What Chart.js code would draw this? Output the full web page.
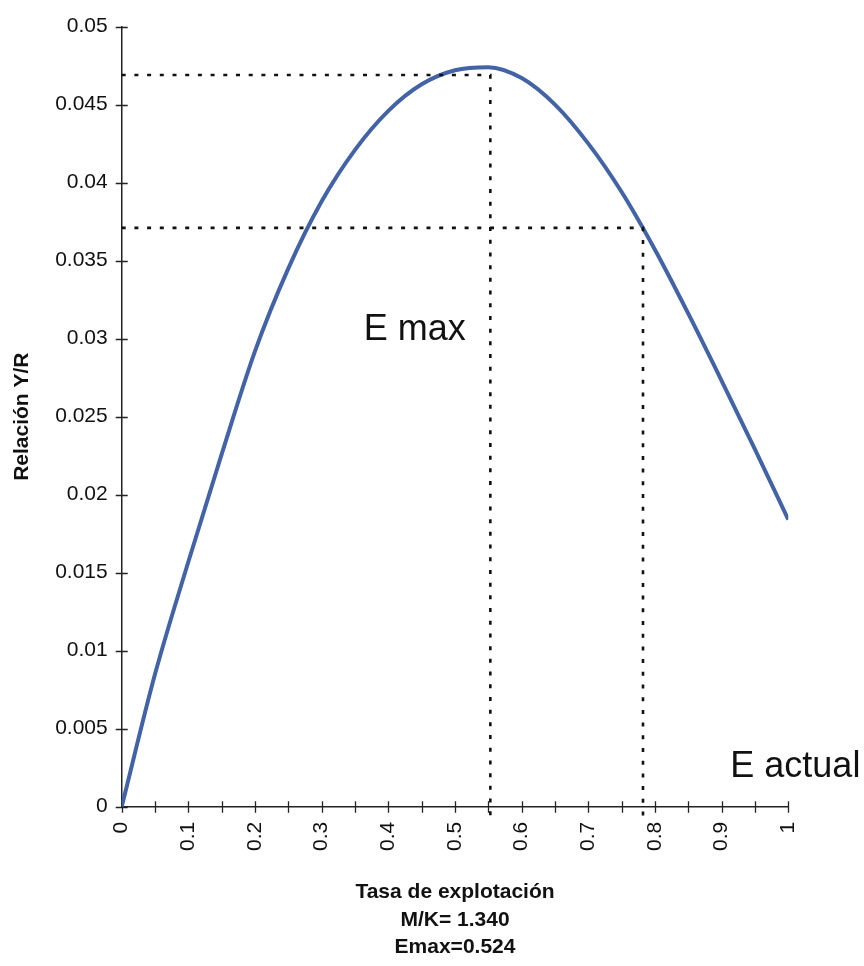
<!DOCTYPE html>
<html>
<head>
<meta charset="utf-8">
<script src="https://cdn.jsdelivr.net/npm/chart.js@4.4.1/dist/chart.umd.min.js"></script>
<style>
  html, body { margin: 0; padding: 0; background: #fff; }
</style>
</head>
<body>
<canvas id="yrChart" width="864" height="966"></canvas>
<script>
/* Relación Y/R vs tasa de explotación */
const tasa = [0, 0.05, 0.1, 0.15, 0.2, 0.25, 0.3, 0.35, 0.4, 0.45, 0.5,
              0.55, 0.6, 0.65, 0.7, 0.75, 0.8, 0.85, 0.9, 0.95, 1];
const relacionYR = [0, 0.0085, 0.0157, 0.0226, 0.0292, 0.0345, 0.0388, 0.0421, 0.0446, 0.0463, 0.0472,
                    0.0474, 0.0467, 0.0450, 0.0425, 0.0394, 0.0357, 0.0316, 0.0273, 0.0229, 0.0184];

const xTickLabels = ['0', '0.1', '0.2', '0.3', '0.4', '0.5', '0.6', '0.7', '0.8', '0.9', '1'];
const yTickLabels = ['0', '0.005', '0.01', '0.015', '0.02', '0.025', '0.03', '0.035', '0.04', '0.045', '0.05'];

// dotted guide lines (E max and E actual)
const eMaxX = [0, 0.553, 0.553];
const eMaxY = [0.0469, 0.0469, -0.0008];
const eActX = [0, 0.782, 0.782];
const eActY = [0.0371, 0.0371, -0.0008];

const annotations = [
  { text: 'E max',    x: 0.363, y: 0.0299 },
  { text: 'E actual', x: 0.913, y: 0.0019 }
];

const pts = (xs, ys) => xs.map((x, i) => ({ x: x, y: ys[i] }));

/* tick marks crossing the axes, like the original */
const crossTicks = {
  id: 'crossTicks',
  beforeDatasetsDraw(chart) {
    const { ctx, chartArea, scales } = chart;
    ctx.save();
    ctx.strokeStyle = '#222';
    ctx.lineWidth = 1.3;
    ctx.beginPath();
    scales.x.ticks.forEach((t, i) => {
      const px = Math.round(scales.x.getPixelForTick(i)) + 0.5;
      ctx.moveTo(px, chartArea.bottom - 5.5);
      ctx.lineTo(px, chartArea.bottom + 6);
    });
    scales.y.ticks.forEach((t, i) => {
      const py = Math.round(scales.y.getPixelForTick(i)) + 0.5;
      ctx.moveTo(chartArea.left - 6, py);
      ctx.lineTo(chartArea.left + 6, py);
    });
    ctx.stroke();
    ctx.restore();
  },
  afterDraw(chart) {
    const { ctx, scales } = chart;
    ctx.save();
    ctx.fillStyle = '#111';
    ctx.font = '36px "Liberation Sans", Arial, sans-serif';
    ctx.textBaseline = 'alphabetic';
    annotations.forEach(a => {
      ctx.fillText(a.text, scales.x.getPixelForValue(a.x), scales.y.getPixelForValue(a.y));
    });
    ctx.restore();
  }
};

const dotted = {
  borderColor: '#111',
  borderWidth: 2.6,
  borderDash: [4, 8.7],
  pointRadius: 0,
  tension: 0,
  clip: false,
  fill: false
};

new Chart(document.getElementById('yrChart'), {
  type: 'line',
  data: {
    datasets: [
      Object.assign({ data: pts(eMaxX, eMaxY) }, dotted),
      Object.assign({ data: pts(eActX, eActY) }, dotted),
      {
        data: pts(tasa, relacionYR),
        borderColor: '#4263a6',
        borderWidth: 4,
        pointRadius: 0,
        cubicInterpolationMode: 'monotone',
        fill: false
      }
    ]
  },
  options: {
    responsive: false,
    animation: false,
    layout: { autoPadding: false, padding: { left: 0, top: 20.7, right: 75.7, bottom: 0 } },
    plugins: { legend: { display: false }, tooltip: { enabled: false } },
    scales: {
      x: {
        type: 'linear',
        min: 0,
        max: 1,
        afterFit: s => { s.height = 159.3; },
        afterBuildTicks: s => { s.ticks = tasa.map(v => ({ value: v })); },
        grid: { display: false, drawTicks: false },
        border: { display: true, color: '#222', width: 1.5 },
        ticks: {
          autoSkip: false,
          minRotation: 90,
          maxRotation: 90,
          padding: 15,
          color: '#111',
          font: { size: 21, family: '"Liberation Sans", Arial, sans-serif' },
          callback: (v, i) => (i % 2 === 0 ? xTickLabels[i / 2] : '')
        },
        title: {
          display: true,
          text: ['Tasa de explotación', 'M/K= 1.340', 'Emax=0.524'],
          color: '#111',
          font: { size: 21, weight: 'bold', family: '"Liberation Sans", Arial, sans-serif', lineHeight: 1.31 },
          padding: { top: 0, bottom: 5 }
        }
      },
      y: {
        min: 0,
        max: 0.05,
        afterFit: s => { s.width = 121.7; },
        afterBuildTicks: s => { s.ticks = yTickLabels.map((l, i) => ({ value: i * 0.005 })); },
        grid: { display: false, drawTicks: false },
        border: { display: true, color: '#222', width: 1.5 },
        ticks: {
          padding: 14,
          color: '#111',
          font: { size: 21, family: '"Liberation Sans", Arial, sans-serif' },
          callback: (v, i) => yTickLabels[i]
        },
        title: {
          display: true,
          text: 'Relación Y/R',
          color: '#111',
          font: { size: 21, weight: 'bold', family: '"Liberation Sans", Arial, sans-serif' },
          padding: { top: 10, bottom: 0 }
        }
      }
    }
  },
  plugins: [crossTicks]
});
</script>
</body>
</html>
